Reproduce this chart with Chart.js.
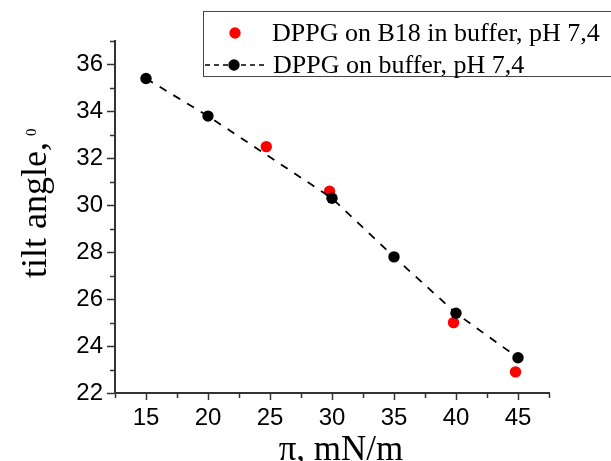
<!DOCTYPE html>
<html>
<head>
<meta charset="utf-8">
<script src="https://cdn.jsdelivr.net/npm/chart.js@4.4.1/dist/chart.umd.min.js"></script>
<style>
    html, body { margin: 0; padding: 0; background: #fff; }
    #wrap { width: 611px; height: 461px; position: relative; }
</style>
</head>
<body>
<div id="wrap"><canvas id="tilt-chart"></canvas></div>
<script>
const bufferPressure = [15, 20, 30, 35, 40, 45];
const bufferAngle = [35.4, 33.8, 30.3, 27.8, 25.4, 23.5];
const b18Pressure = [24.7, 29.8, 39.8, 44.8];
const b18Angle = [32.5, 30.6, 25.0, 22.9];
const seriesLabels = ['DPPG on B18 in buffer, pH 7,4', 'DPPG on buffer, pH 7,4'];
const xMajorTicks = [15, 20, 25, 30, 35, 40, 45];
const yMajorTicks = [22, 24, 26, 28, 30, 32, 34, 36];
const xTitle = 'π, mN/m';
const yTitle = 'tilt angle,';
const yTitleSup = '0';

window.onload = () => {
    let toPoints = (xs, ys) => xs.map((x, i) => ({ x: x, y: ys[i] }));

    // short minor ticks, axis titles and the boxed legend
    let decorations = {
        id: 'decorations',
        afterDraw(chart) {
            let ctx = chart.ctx;
            let xs = chart.scales.x;
            let ys = chart.scales.y;
            ctx.save();

            ctx.strokeStyle = '#333';
            ctx.lineWidth = 1.5;
            ctx.beginPath();
            xs.ticks.forEach(t => {
                if (xMajorTicks.includes(t.value)) return;
                let px = Math.round(xs.getPixelForValue(t.value)) + 0.5;
                ctx.moveTo(px, xs.top);
                ctx.lineTo(px, xs.top + 5);
            });
            ys.ticks.forEach(t => {
                if (yMajorTicks.includes(t.value)) return;
                let py = Math.round(ys.getPixelForValue(t.value)) + 0.5;
                ctx.moveTo(ys.right, py);
                ctx.lineTo(ys.right - 5, py);
            });
            ctx.stroke();

            ctx.fillStyle = '#000';
            ctx.font = '35px "Liberation Serif"';
            ctx.textAlign = 'center';
            ctx.textBaseline = 'alphabetic';
            ctx.fillText(xTitle, 341, 460);

            ctx.save();
            ctx.translate(45.5, 278);
            ctx.rotate(-Math.PI / 2);
            ctx.textAlign = 'left';
            ctx.font = '36px "Liberation Serif"';
            ctx.fillText(yTitle, 0, 0);
            ctx.font = '15px "Liberation Serif"';
            ctx.fillText(yTitleSup, 142, -10);
            ctx.restore();

            ctx.fillStyle = '#fff';
            ctx.fillRect(203.5, 11.5, 420, 65);
            ctx.strokeStyle = '#444';
            ctx.lineWidth = 1;
            ctx.strokeRect(203.5, 11.5, 420, 65);

            ctx.fillStyle = '#ff0000';
            ctx.beginPath();
            ctx.arc(235, 33, 5.7, 0, Math.PI * 2);
            ctx.fill();

            ctx.strokeStyle = '#000';
            ctx.lineWidth = 1.5;
            ctx.setLineDash([5, 4]);
            ctx.beginPath();
            ctx.moveTo(205, 65);
            ctx.lineTo(268, 65);
            ctx.stroke();
            ctx.setLineDash([]);
            ctx.fillStyle = '#000';
            ctx.beginPath();
            ctx.arc(234, 65, 5.7, 0, Math.PI * 2);
            ctx.fill();

            ctx.font = '26px "Liberation Serif"';
            ctx.textAlign = 'left';
            ctx.textBaseline = 'alphabetic';
            ctx.fillText(seriesLabels[0], 272, 41);
            ctx.fillText(seriesLabels[1], 273, 72.5);
            ctx.restore();
        }
    };

    let tiltChart = {
        type: 'scatter',
        data: {
            datasets: [{
                label: seriesLabels[1],
                data: toPoints(bufferPressure, bufferAngle),
                showLine: true,
                borderColor: '#000',
                borderWidth: 1.8,
                borderDash: [8, 8],
                backgroundColor: '#000',
                pointRadius: 5.7,
                pointBorderWidth: 0
            }, {
                label: seriesLabels[0],
                data: toPoints(b18Pressure, b18Angle),
                showLine: false,
                backgroundColor: '#ff0000',
                borderColor: '#ff0000',
                pointRadius: 5.7,
                pointBorderWidth: 0
            }]
        },
        options: {
            responsive: true,
            maintainAspectRatio: false,
            animation: false,
            layout: { padding: { top: 41, right: 62 } },
            plugins: {
                legend: { display: false },
                tooltip: { enabled: false }
            },
            scales: {
                x: {
                    type: 'linear',
                    min: 12.5,
                    max: 47.5,
                    afterFit: (s) => { s.height = 68; },
                    ticks: {
                        stepSize: 2.5,
                        autoSkip: false,
                        maxRotation: 0,
                        color: '#000',
                        padding: 4,
                        font: { family: '"Liberation Sans"', size: 24 },
                        callback: (v) => xMajorTicks.includes(v) ? v : ''
                    },
                    grid: {
                        drawOnChartArea: false,
                        tickLength: 7,
                        tickWidth: 1.5,
                        tickColor: (c) => xMajorTicks.includes(c.tick.value) ? '#333' : 'rgba(0,0,0,0)'
                    },
                    border: { color: '#333', width: 2 }
                },
                y: {
                    min: 22,
                    max: 37,
                    afterFit: (s) => { s.width = 115; },
                    ticks: {
                        stepSize: 1,
                        autoSkip: false,
                        color: '#000',
                        padding: 4,
                        font: { family: '"Liberation Sans"', size: 24 },
                        callback: (v) => yMajorTicks.includes(v) ? v : ''
                    },
                    grid: {
                        drawOnChartArea: false,
                        tickLength: 8,
                        tickWidth: 1.5,
                        tickColor: (c) => yMajorTicks.includes(c.tick.value) ? '#333' : 'rgba(0,0,0,0)'
                    },
                    border: { color: '#333', width: 2 }
                }
            }
        },
        plugins: [decorations]
    };

    new Chart(document.getElementById('tilt-chart'), tiltChart);
}
</script>
</body>
</html>
